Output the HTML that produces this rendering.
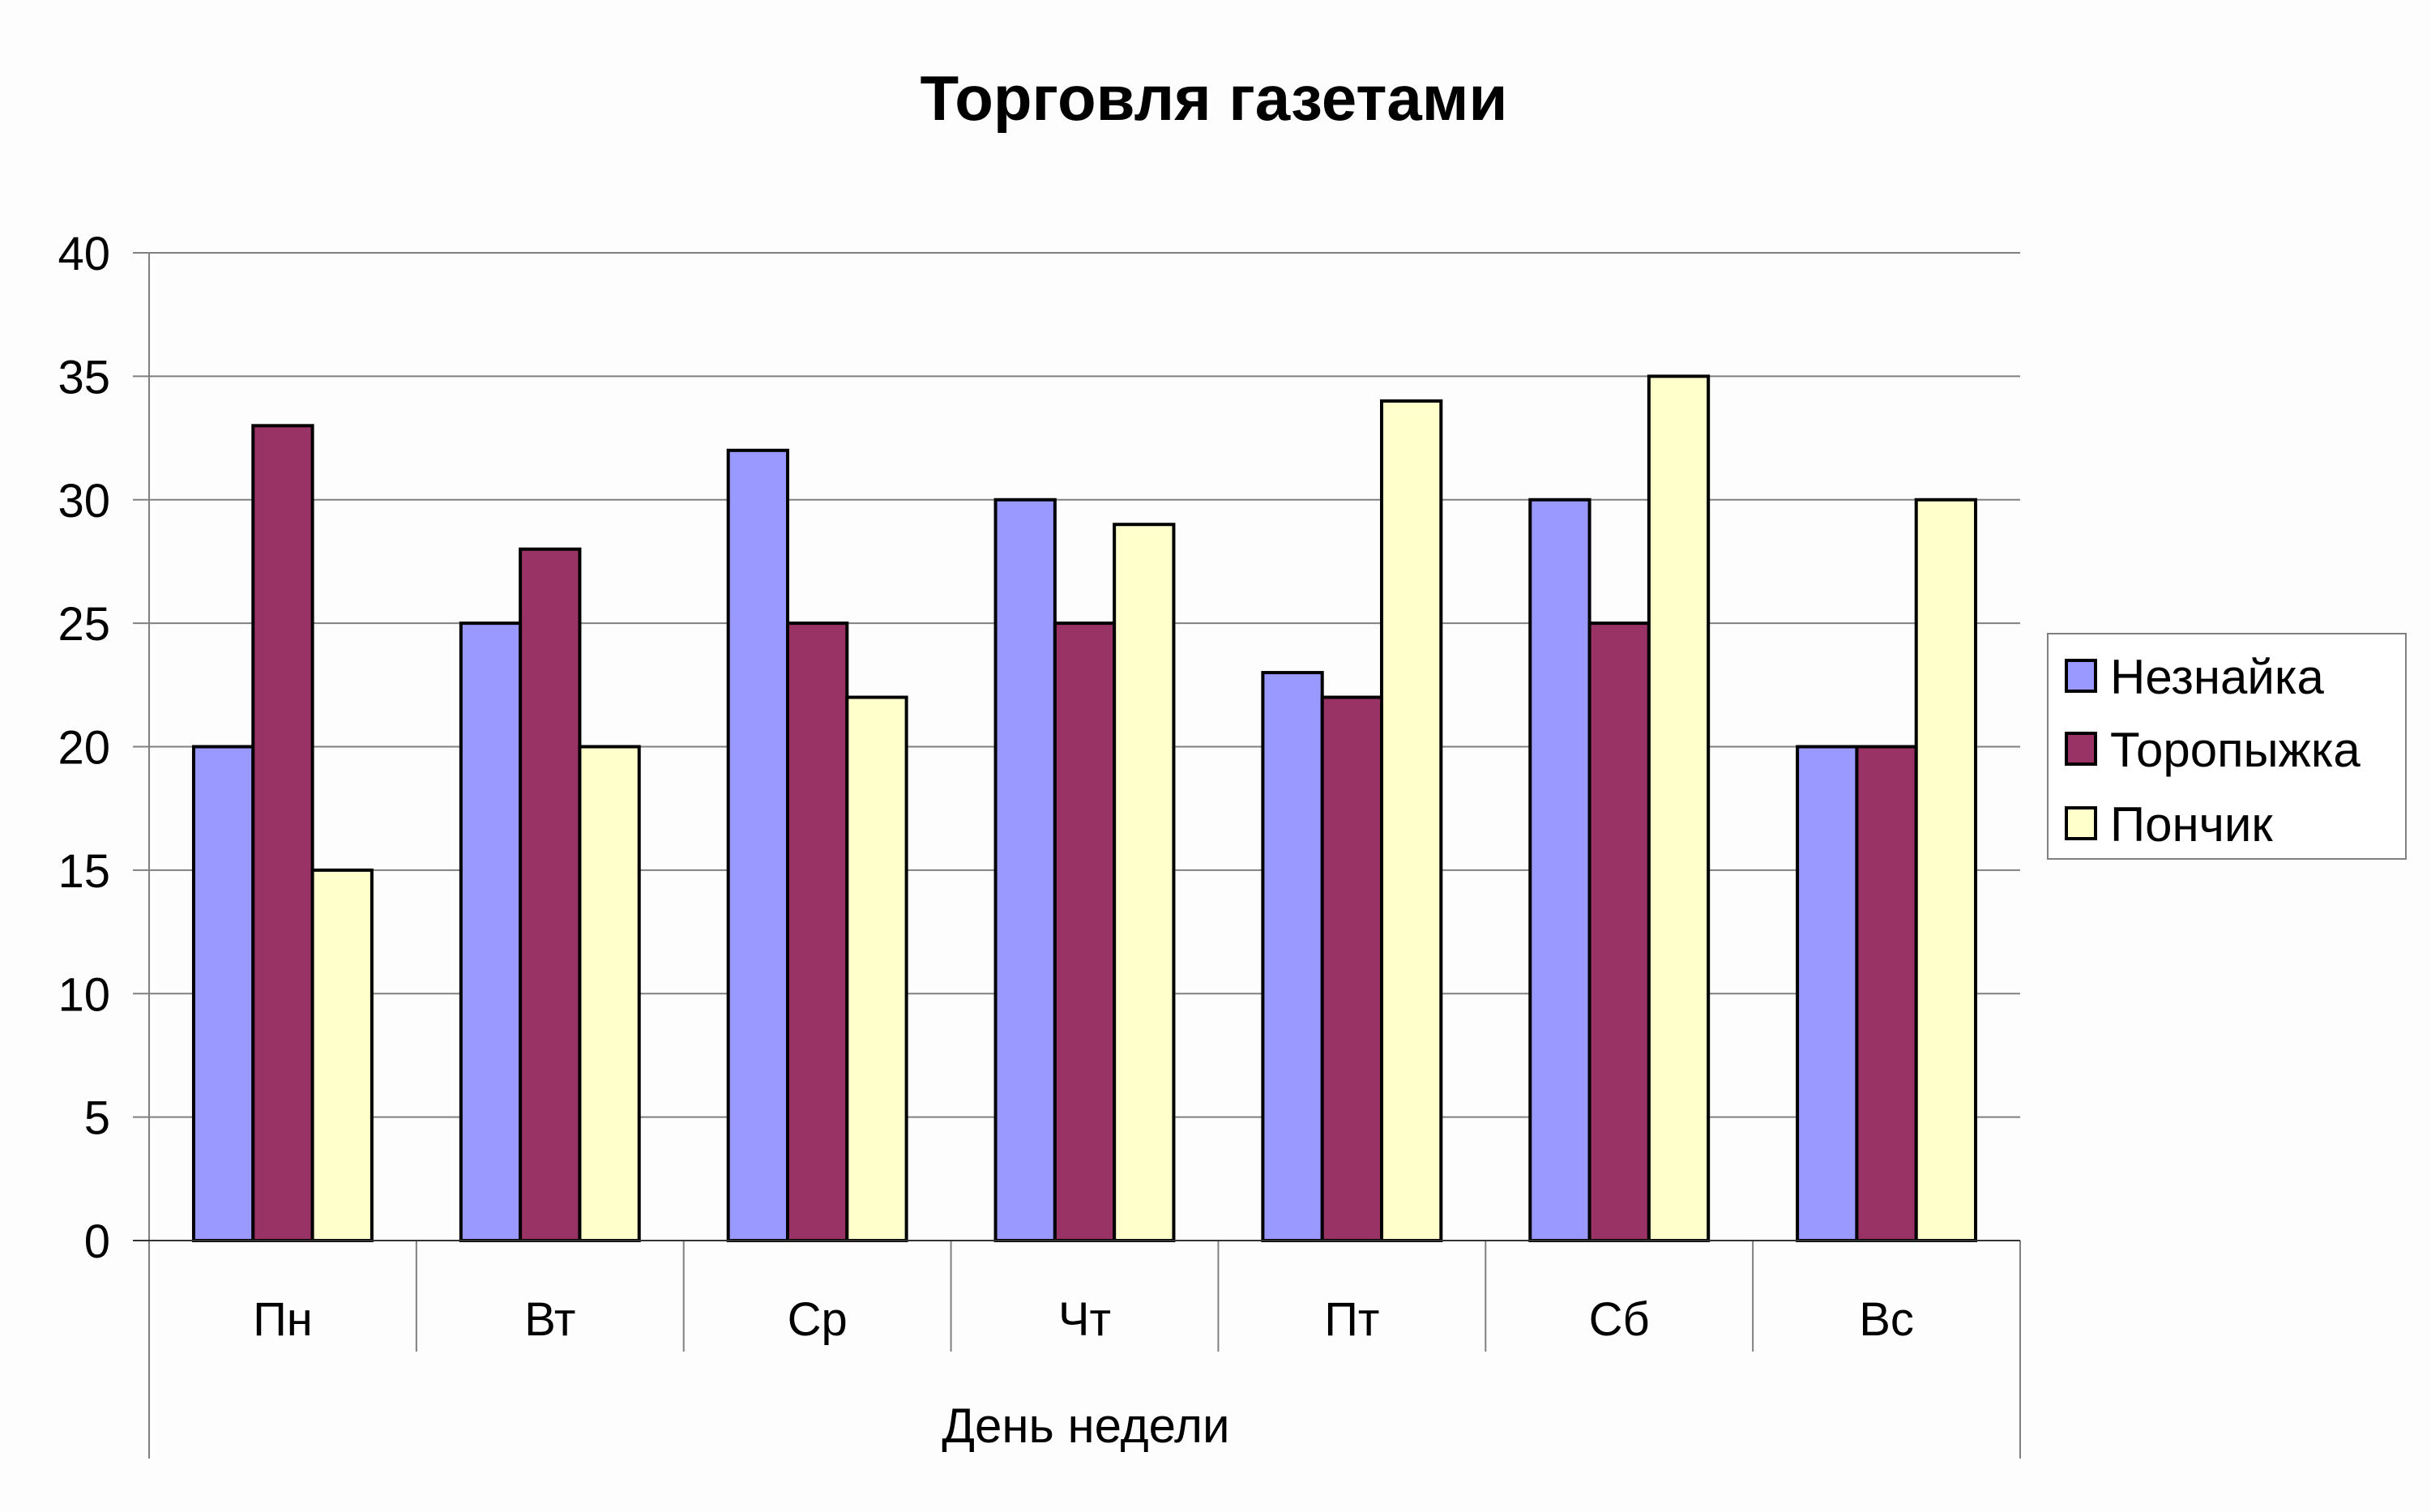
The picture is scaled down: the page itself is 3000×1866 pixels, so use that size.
<!DOCTYPE html>
<html><head><meta charset="utf-8"><style>
html,body{margin:0;padding:0;background:#fdfdfd;}
svg{display:block;font-family:"Liberation Sans",Arial,sans-serif;}
</style></head><body>
<svg id="chart" width="3000" height="1866" viewBox="0 0 3000 1866" xmlns="http://www.w3.org/2000/svg">
<rect width="3000" height="1866" fill="#fdfdfd"/>
<text x="1498" y="148" text-anchor="middle" font-size="78" font-weight="bold">Торговля газетами</text>
<g id="grid"></g>
<g id="bars"></g>
<g id="axes"></g>
<text x="1340" y="1780" text-anchor="middle" font-size="60">День недели</text>
<g id="legend">
<rect x="2527" y="782" width="442" height="278" fill="#fff" stroke="#808080" stroke-width="2"/>
</g>
</svg>
<script>
const categories = ["Пн","Вт","Ср","Чт","Пт","Сб","Вс"];
const seriesNames = ["Незнайка","Торопыжка","Пончик"];
const neznayka = [20,25,32,30,23,30,20];
const toropyzhka = [33,28,25,25,22,25,20];
const ponchik = [15,20,22,29,34,35,30];
const yTicks = [0,5,10,15,20,25,30,35,40];

const NS="http://www.w3.org/2000/svg";
const colors=["#9999ff","#993366","#ffffcc"];
const series=[neznayka,toropyzhka,ponchik];
const L=184,R=2493,T=312,B=1531,yMax=40;
const catW=(R-L)/categories.length;
const barW=catW/4.5;
function y(v){return B-(v/yMax)*(B-T);}
function xCat(i){return L+i*catW;}
function mk(tag,attrs,parent){const e=document.createElementNS(NS,tag);for(const k in attrs)e.setAttribute(k,attrs[k]);parent.appendChild(e);return e;}
const grid=document.getElementById('grid'),bars=document.getElementById('bars'),axes=document.getElementById('axes'),legend=document.getElementById('legend');
yTicks.forEach(t=>{
  const ln=mk('line',{x1:L-20,x2:R,y1:y(t),y2:y(t),stroke:'#808080','stroke-width':2},grid);
  
  
  const tx=mk('text',{x:136,y:y(t)+21,'text-anchor':'end','font-size':58},grid);
  tx.textContent=t;
  
  
});
categories.forEach((c,i)=>{
  series.forEach((s,j)=>{
    const x0=xCat(i)+barW*0.75+j*barW;
    const r=mk('rect',{x:x0,y:y(s[i]),width:barW,height:B-y(s[i]),fill:colors[j],stroke:'#000','stroke-width':4},bars);
    
    
  });
  const tx=mk('text',{x:xCat(i)+catW/2,y:1648,'text-anchor':'middle','font-size':58},axes);
  tx.textContent=c;
  
  
});
for(let i=1;i<categories.length;i++){
  const ln=mk('line',{x1:xCat(i),x2:xCat(i),y1:B,y2:1668,stroke:'#808080','stroke-width':2},axes);
  
  
}
let a=mk('line',{x1:L,x2:L,y1:T,y2:1800,stroke:'#808080','stroke-width':2},axes);


a=mk('line',{x1:R,x2:R,y1:B,y2:1800,stroke:'#808080','stroke-width':2},axes);


a=mk('line',{x1:L-20,x2:R,y1:B,y2:B,stroke:'#333','stroke-width':2},axes);


const rowsY=[834,924,1016];
seriesNames.forEach((n,j)=>{
  const sw=mk('rect',{x:2550,y:rowsY[j]-19,width:36,height:38,fill:colors[j],stroke:'#000','stroke-width':4},legend);
  
  
  const tx=mk('text',{x:2604,y:rowsY[j]+22,'font-size':60},legend);
  tx.textContent=n;
  
  
});
</script>
</body></html>
